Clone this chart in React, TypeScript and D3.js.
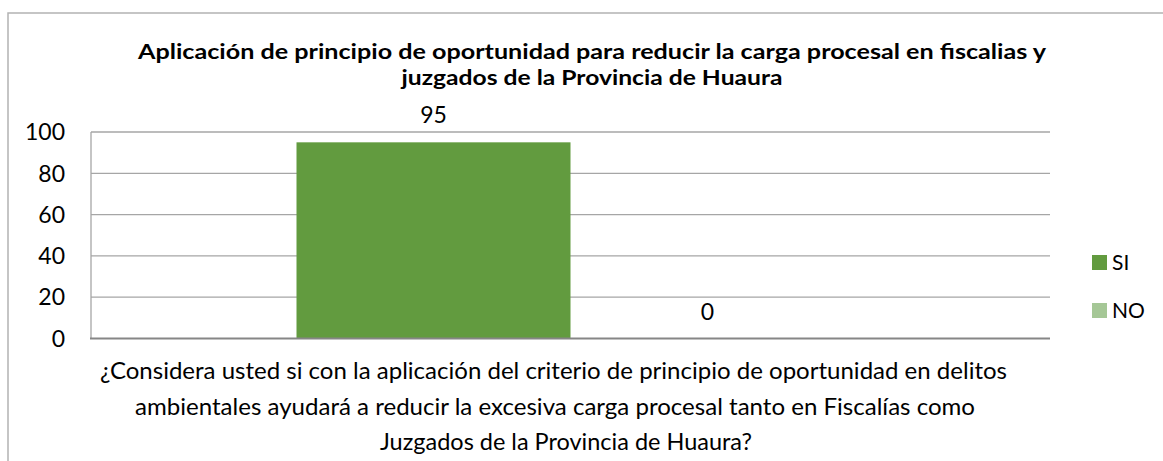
import React from "react";
import * as d3 from "d3";

const categories = ["¿Considera usted si con la aplicación del criterio de principio de oportunidad en delitos ambientales ayudará a reducir la excesiva carga procesal tanto en Fiscalías como Juzgados de la Provincia de Huaura?"];
const categoryLines = [
  "¿Considera usted si con la aplicación del criterio de principio de oportunidad en delitos",
  "ambientales ayudará a reducir la excesiva carga procesal tanto en Fiscalías como",
  "Juzgados de la Provincia de Huaura?",
];
const seriesNames = ["SI", "NO"];
const seriesValues = [95, 0];
const seriesColors = ["#629B3F", "#A5C796"];
const yTicks = [0, 20, 40, 60, 80, 100];
const titleLines = [
  "Aplicación de principio de oportunidad para reducir la carga procesal en fiscalias y",
  "juzgados de la Provincia de Huaura",
];

const W = 1163;
const H = 461;
const FONT = "Lato, 'Open Sans', sans-serif";

export default function App() {
  const left = 91, right = 1050, top = 132, bottom = 338.5;
  const y = d3.scaleLinear().domain([0, 100]).range([bottom, top]);
  const x0 = d3.scaleBand().domain(categories).range([left, right]).paddingInner(0).paddingOuter(0.375);
  const x1 = d3.scaleBand().domain(seriesNames).range([0, x0.bandwidth()]).padding(0);

  const titleLens = [908, 381];
  const catLens = [907, 840, 372];
  const catX = [553.5, 555, 566];

  return (
    <svg width={W} height={H} style={{ position: "absolute", left: 0, top: 0 }}>
      <rect x={0} y={0} width={W} height={H} fill="#fff" />
      <rect x={8} y={13} width={W + 20} height={H + 20} fill="none" stroke="#B3B3B3" strokeWidth={1.5} />
      {titleLines.map((t, i) => (
        <text key={i} x={592} y={59 + i * 25.5} textAnchor="middle" fontFamily={FONT} fontWeight="bold" fontSize={21}
          textLength={titleLens[i]} lengthAdjust="spacingAndGlyphs" fill="#000">{t}</text>
      ))}
      {yTicks.map((t) => (
        <g key={t}>
          {t > 0 && <line x1={left} x2={right} y1={y(t)} y2={y(t)} stroke="#A6A6A6" strokeWidth={1.3} />}
          <text x={65} y={y(t)} dy="0.36em" textAnchor="end" fontFamily={FONT} fontSize={23} fill="#000">{t}</text>
        </g>
      ))}
      <line x1={left} x2={left} y1={top} y2={bottom} stroke="#A6A6A6" strokeWidth={1.3} />
      {categories.map((c) => (
        <g key={c}>
          {seriesNames.map((s, i) => {
            const bx = (x0(c) as number) + (x1(s) as number);
            const v = seriesValues[i];
            return (
              <g key={s}>
                <rect x={bx} y={y(v)} width={x1.bandwidth()} height={y(0) - y(v)} fill={seriesColors[i]} />
                <text x={bx + x1.bandwidth() / 2} y={y(v) - 19} textAnchor="middle" fontFamily={FONT} fontSize={23} fill="#000">{v}</text>
              </g>
            );
          })}
        </g>
      ))}
      <line x1={left - 1} x2={right} y1={bottom} y2={bottom} stroke="#868686" strokeWidth={2} />
      {categoryLines.map((t, i) => (
        <text key={i} x={catX[i]} y={379 + i * 35.5} textAnchor="middle" fontFamily={FONT} fontSize={23}
          textLength={catLens[i]} lengthAdjust="spacingAndGlyphs" fill="#000">{t}</text>
      ))}
      {seriesNames.map((s, i) => (
        <g key={s} transform={`translate(1092, ${255 + i * 48})`}>
          <rect x={0} y={0} width={15} height={15} fill={seriesColors[i]} />
          <text x={20} y={7.5} dy="0.36em" fontFamily={FONT} fontSize={21} fill="#000">{s}</text>
        </g>
      ))}
    </svg>
  );
}
